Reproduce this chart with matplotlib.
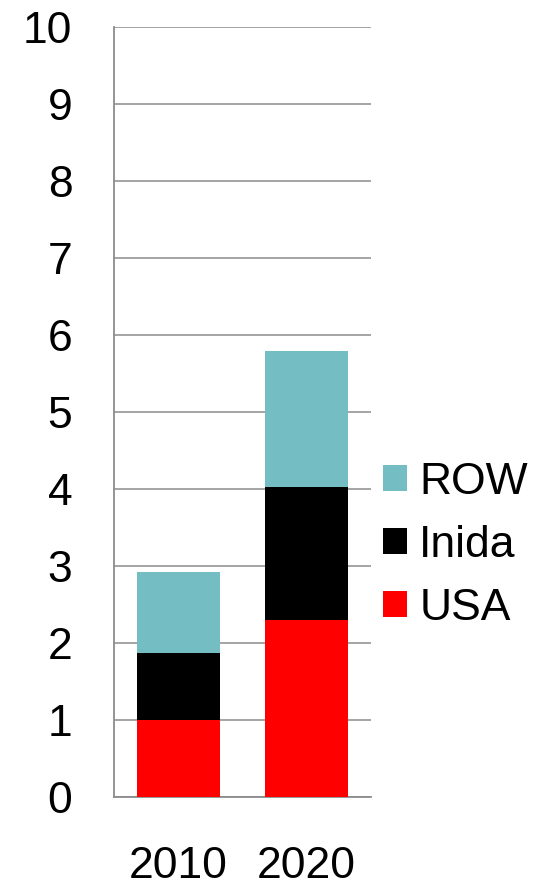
import matplotlib
matplotlib.use("Agg")
import matplotlib.pyplot as plt
from matplotlib.patches import Patch

plt.rcParams['font.family'] = ['Liberation Sans', 'DejaVu Sans']

years = ["2010", "2020"]
usa = [1.0, 2.3]
india = [0.875, 1.73]
row = [1.05, 1.77]
series_labels = ["USA", "Inida", "ROW"]
colors = ["#FF0000", "#000000", "#74BEC3"]
y_ticks = list(range(0, 11))

fig = plt.figure(figsize=(5.58, 8.88), dpi=100)
ax = fig.add_axes([0.2043, 0.1021, 0.4600, 0.8675])

x = range(len(years))
width = 0.645
bottom2 = [a + b for a, b in zip(usa, india)]
ax.bar(x, usa, width, color=colors[0], zorder=3)
ax.bar(x, india, width, bottom=usa, color=colors[1], zorder=3)
ax.bar(x, row, width, bottom=bottom2, color=colors[2], zorder=3)

ax.set_xlim(-0.5, 1.5)
ax.set_ylim(0, 10)
ax.set_yticks(y_ticks)
ax.set_yticklabels([str(t) for t in y_ticks])
ax.set_xticks(list(x))
ax.set_xticklabels(years)
ax.tick_params(axis='y', length=0, pad=30, labelsize=32)
ax.tick_params(axis='x', length=0, pad=35, labelsize=32)

grid_color = "#8C8C8C"
ax.yaxis.grid(True, color=grid_color, linewidth=1.1, zorder=0)
ax.set_axisbelow(True)
for side in ("top", "right"):
    ax.spines[side].set_visible(False)
for side in ("left", "bottom"):
    ax.spines[side].set_color(grid_color)
    ax.spines[side].set_linewidth(1.3)

handles = [Patch(facecolor=colors[i], edgecolor='none', label=series_labels[i]) for i in (2, 1, 0)]
fig.legend(handles=handles, loc='center left', bbox_to_anchor=(0.686, 0.386),
           frameon=False, fontsize=32, handlelength=0.54, handleheight=0.54,
           handletextpad=0.28, labelspacing=0.49, borderpad=0, borderaxespad=0)

fig.savefig("out.png", dpi=100)
